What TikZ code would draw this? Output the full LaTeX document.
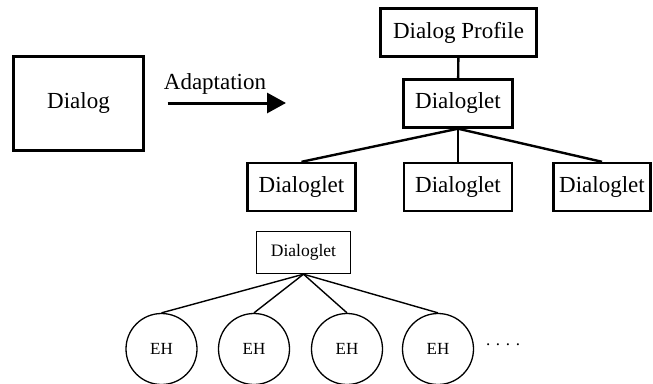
\documentclass[tikz,border=0pt]{standalone}
\usepackage{fontspec}
\setmainfont{Liberation Serif}
\usetikzlibrary{positioning, calc}
\usetikzlibrary{arrows.meta}

\begin{document}
\begin{tikzpicture}[x=1pt, y=-1pt,
	                    box/.style={draw,
	                                line width=2.4pt,
	                                inner sep=0pt,
	                                minimum height=48pt,
	                                font=\fontsize{23}{26}\selectfont},
	                    smallbox/.style={draw,
	                                line width=1.4pt,
	                                inner sep=0pt,
	                                minimum width=94pt,
	                                minimum height=42pt,
	                                font=\fontsize{17.5}{20}\selectfont},
	                    handler/.style={draw, circle,
	                                line width=1.3pt,
	                                inner sep=0pt,
	                                minimum size=71pt,
	                                font=\fontsize{17}{20}\selectfont},
	                    link/.style={draw, line width=2.4pt},
	                    thinlink/.style={draw, line width=1.4pt},
	                    adapt/.style={-{Triangle[length=19pt, width=20pt]},
	                                draw,
	                                line width=3pt,
	                                shorten <=23pt}]
	\useasboundingbox (0,0) rectangle (653,383);
	\fill[white] (0,0) rectangle (653,383);

	% before adaptation
	\node [box, minimum width=130pt, minimum height=94pt] (Dialog) at (78.5, 103.5) {Dialog};
	\coordinate (AdaptEnd) at (286, 103);
	\draw [adapt] (Dialog.east |- AdaptEnd) -- (AdaptEnd);
	\node [font=\fontsize{23}{26}\selectfont] (Adaptation) at (215, 84) {Adaptation};

	% after adaptation
	\node [box, minimum width=156pt] (Profile) at (458.5, 32.5) {Dialog Profile};
	\node [box, minimum width=109pt] (Root) at (458, 103.5) {Dialoglet};
	\node [box, minimum width=108pt] (LeftLet) at (301.5, 187) {Dialoglet};
	\node [box, minimum width=108pt] (MidLet) at (458, 187) {Dialoglet};
	\node [box, minimum width=97pt] (RightLet) at (602, 187) {Dialoglet};
	\draw [link] (Profile) -- (Root);
	\draw [link] (Root.south) -- (LeftLet.north);
	\draw [link] (Root.south) -- (MidLet.north);
	\draw [link] (Root.south) -- (RightLet.north);

	% event handlers of one dialoglet
	\node [smallbox] (Let) at (303.5, 252.5) {Dialoglet};
	\node [handler] (EHa) at (161.5, 349) {EH};
	\node [handler] (EHb) at (254, 349) {EH};
	\node [handler] (EHc) at (347, 349) {EH};
	\node [handler] (EHd) at (438, 349) {EH};
	\node [font=\fontsize{17}{20}\selectfont] (More) at (503, 345) {.\,\,.\,\,.\,\,.};
	\foreach \eh in {EHa, EHb, EHc, EHd}
		\draw [thinlink] (Let.south) -- (\eh.north);
\end{tikzpicture}
\end{document}
